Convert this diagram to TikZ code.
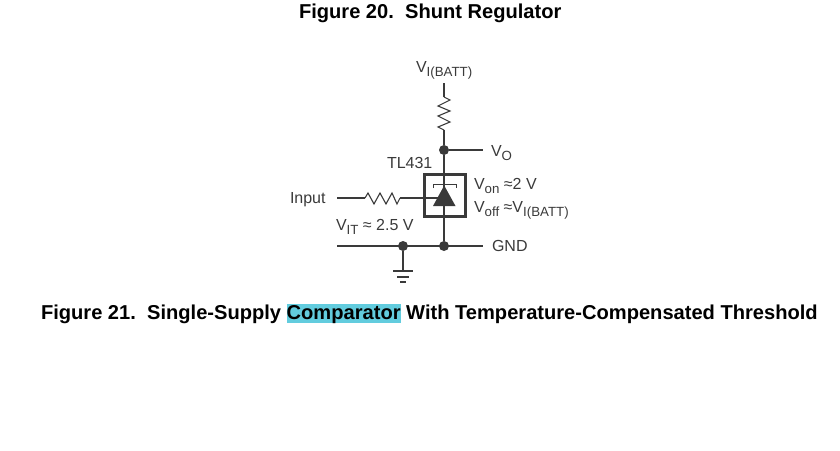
\documentclass[tikz,border=0pt]{standalone}
\usepackage{fontspec}
\setmainfont{Liberation Sans}
\definecolor{ink}{HTML}{3A3A3A}
\definecolor{hl}{HTML}{62CCDE}
\newcommand{\sbs}[1]{\raisebox{-0.55ex}{\fontsize{13.3}{14}\selectfont #1}}
\tikzset{
  wire/.style={draw=ink,line width=1.1pt},
  part/.style={draw=ink,line width=1.1pt,line join=miter},
  lbl/.style={anchor=base west,inner sep=0pt,outer sep=0pt,text=ink,font=\fontsize{16}{18}\selectfont},
  title/.style={anchor=base west,inner sep=0pt,outer sep=0pt,text=black,font=\fontsize{20.1}{22}\selectfont\bfseries},
  junction/.style={circle,fill=ink,draw=none,minimum size=10pt,inner sep=0pt},
}
\begin{document}
\begin{tikzpicture}[x=1pt,y=-1pt]
\useasboundingbox (0,0) rectangle (840,450);
% titles
\node[title] (t20) at (299,18) {Figure 20.\ \ Shunt Regulator};
\setlength{\fboxsep}{0pt}
\node[title] (t21) at (41,319) {Figure 21.\ \ Single-Supply \colorbox{hl}{\rule[-3pt]{0pt}{18pt}Comparator} With Temperature-Compensated Threshold};
% named points
\coordinate (top) at (444,83);
\coordinate (r1a) at (444,97);
\coordinate (r1b) at (444,130);
\node[junction] (jO) at (444,150) {};
\coordinate (vo) at (483,150);
\node[junction] (jG) at (444,246) {};
\node[junction] (jT) at (403,246) {};
\coordinate (gl) at (337,246);
\coordinate (gr) at (483,246);
\coordinate (inL) at (337,198);
\coordinate (r2a) at (365,198);
\coordinate (r2b) at (400,198);
\coordinate (gate) at (444,198);
\coordinate (gnd) at (403,271);
\node[draw=ink,line width=3pt,minimum width=41pt,minimum height=42pt,inner sep=0pt] (ic) at (444.5,195) {};
% wires
\draw[wire] (top) -- (r1a);
\draw[part] (r1a) -- (450,100) -- (438,106) -- (450,111) -- (438,116) -- (450,122) -- (438,127) -- (r1b);
\draw[wire] (r1b) -- (jO);
\draw[wire] (jO) -- (vo);
\draw[wire] (jO) -- (jG);
\draw[wire] (gl) -- (gr);
\draw[wire] (jT) -- (gnd);
\draw[wire] (inL) -- (r2a);
\draw[part] (r2a) -- (368,193) -- (374,204) -- (380,193) -- (386,204) -- (392,193) -- (397,204) -- (r2b);
\draw[wire] (r2b) -- (gate);
% zener symbol
\draw[draw=ink,line width=0.8pt] (433,188) -- (433,184.5) -- (456,184.5) -- (456,188);
\fill[ink] (444.2,185.5) -- (455.5,206) -- (433,206) -- cycle;
% ground
\draw[part] (393,271) -- (413,271);
\draw[part] (397,277) -- (409,277);
\draw[part] (400,282) -- (406,282);
% labels
\node[lbl] (vbatt) at (416,72) {V\sbs{I(BATT)}};
\node[lbl] (vol) at (491,156) {V\sbs{O}};
\node[lbl] (tl) at (387,168) {TL431};
\node[lbl] (von) at (474,189) {V\sbs{on} ≈2 V};
\node[lbl] (voff) at (474,212) {V\sbs{off} ≈V\sbs{I(BATT)}};
\node[lbl] (inp) at (290,203) {Input};
\node[lbl] (vit) at (336,230) {V\sbs{IT} ≈ 2.5 V};
\node[lbl] (gndl) at (492,251) {GND};
\end{tikzpicture}
\end{document}
